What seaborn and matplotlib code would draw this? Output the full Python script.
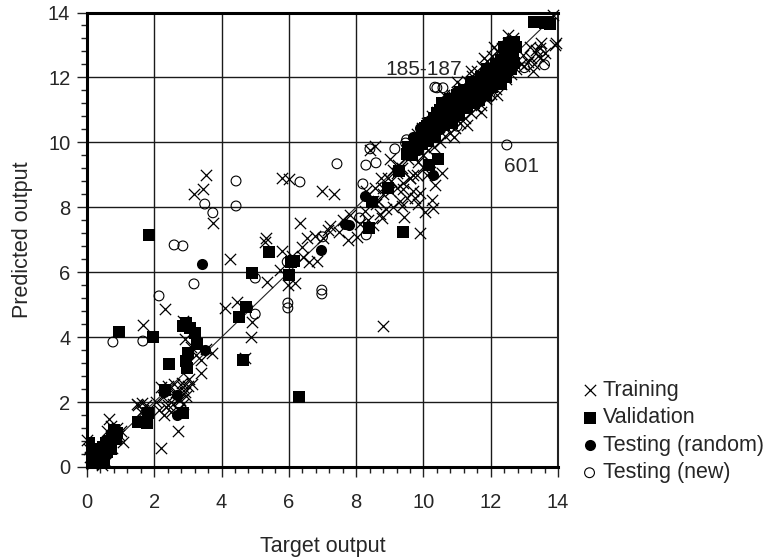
import numpy as np
import matplotlib
matplotlib.use("Agg")
import matplotlib.pyplot as plt
from matplotlib.ticker import MultipleLocator
import seaborn as sns

# values
train_x = [0.0, 0.05, 0.1, 0.15, 0.2, 0.3, 0.35, 0.4, 0.5, 0.55, 0.6, 0.65, 0.7, 0.75, 0.8, 0.85, 0.9, 0.95, 1.0, 1.07, 0.45, 0.58, 0.72,
           1.49, 1.63, 1.52, 1.66, 1.6, 1.75, 2.2, 2.7, 2.32, 1.66, 2.05, 2.15, 2.25, 2.35, 2.45, 2.55, 2.65, 2.75, 2.85, 2.95, 2.2, 2.3, 2.42, 2.5, 2.6, 2.72, 2.82, 2.92, 3.02, 3.12, 2.4, 2.55, 2.7, 2.85, 3.0,
           3.39, 3.71, 2.91, 3.1, 3.25, 3.4, 3.55, 2.85,
           3.54, 3.45, 3.18, 3.74, 5.8, 6.0, 6.33, 6.78, 5.32, 6.98, 7.34, 6.55, 4.25, 4.1, 4.45, 4.9, 4.87, 4.7, 5.35, 5.29, 5.8, 5.74, 5.97, 6.18, 6.42, 6.83, 6.39, 6.1, 6.6, 7.0, 7.22, 7.5,
           7.15, 7.82, 7.6, 7.75, 8.02, 8.77, 9.9, 9.42, 10.25, 10.28, 10.55, 8.56, 8.4, 8.1, 8.25, 8.35, 8.5, 8.6, 8.7, 8.8, 8.9, 9.0, 9.1, 9.2, 9.3, 9.4, 9.5, 9.6, 9.7, 9.8, 8.3, 8.5, 8.65, 8.8, 8.95, 9.1, 9.25, 9.4, 9.55, 9.7, 9.85, 10.0, 10.1, 10.2, 10.35, 9.0, 9.2, 9.35, 9.6, 9.75, 9.9, 8.75, 9.05, 9.35, 8.55, 9.85, 10.05, 8.8,
           9.8, 9.95, 10.1, 10.25, 10.4, 10.55, 10.7, 10.85, 11.0, 11.15, 11.3, 11.45, 11.6, 11.75, 11.9, 12.05, 12.2, 12.35, 12.5, 12.65, 10.0, 10.15, 10.3, 10.5, 10.65, 10.8, 10.95, 11.1, 11.25, 11.4, 11.55, 11.7, 11.85, 12.0, 12.15, 12.3, 12.45, 12.6, 12.75, 12.9, 10.6, 11.0, 11.4, 11.8, 12.1, 12.5, 10.9, 11.3, 11.7, 12.2,
           13.9, 13.95, 13.46, 13.55, 13.3, 13.1, 13.17, 13.4, 13.6, 13.2, 13.35, 13.0, 13.85, 13.7, 13.5, 12.95, 13.25]
train_y = [0.83, 0.55, 0.3, 0.1, 0.55, 0.2, 0.6, 0.35, 0.45, 0.15, 0.7, 1.48, 0.9, 0.6, 1.15, 0.85, 1.2, 1.0, 1.1, 0.77, 0.05, 1.1, 1.25,
           1.94, 1.97, 1.9, 1.75, 1.7, 1.9, 0.59, 1.11, 4.87, 4.38, 2.0, 1.75, 2.15, 1.85, 2.4, 1.95, 2.3, 2.05, 2.45, 2.2, 2.45, 1.6, 2.5, 1.7, 2.55, 2.1, 2.6, 2.3, 2.7, 2.55, 1.9, 2.2, 1.75, 1.95, 2.5,
           2.9, 3.51, 3.94, 3.7, 3.45, 3.3, 3.65, 4.5,
           9.0, 8.56, 8.41, 7.52, 8.91, 8.87, 7.52, 7.12, 7.06, 8.5, 8.41, 7.05, 6.41, 4.9, 5.09, 4.47, 4.0, 3.36, 5.7, 6.94, 6.66, 6.07, 5.61, 5.67, 6.47, 6.35, 6.78, 6.5, 6.3, 7.05, 7.43, 7.25,
           7.3, 7.77, 7.6, 7.0, 7.09, 7.67, 7.21, 7.7, 8.23, 7.98, 9.06, 9.89, 9.75, 7.5, 7.9, 7.6, 7.45, 8.1, 7.8, 8.4, 7.95, 8.5, 8.0, 8.6, 8.2, 8.55, 8.3, 8.9, 8.5, 9.0, 8.5, 8.2, 8.2, 8.6, 8.9, 9.15, 9.3, 8.75, 9.5, 9.0, 9.4, 9.25, 9.0, 9.4, 8.7, 9.5, 9.05, 8.05, 8.9, 8.3, 8.45, 8.9, 8.8, 9.2, 8.6, 8.1, 7.85, 4.35,
           10.25, 10.45, 10.6, 10.8, 10.95, 11.1, 11.25, 11.45, 11.55, 11.75, 11.9, 12.05, 12.2, 12.35, 12.5, 12.65, 12.8, 12.9, 13.05, 13.2, 9.6, 9.75, 9.85, 10.0, 10.2, 10.3, 10.45, 10.6, 10.75, 10.9, 11.05, 11.15, 11.35, 11.5, 11.65, 11.8, 11.95, 12.1, 12.25, 12.4, 11.45, 11.85, 12.2, 12.6, 12.95, 13.3, 10.15, 10.55, 10.95, 11.45,
           13.0, 13.05, 12.9, 12.55, 12.4, 12.48, 12.94, 12.65, 12.75, 12.6, 12.85, 12.35, 13.93, 13.7, 13.05, 12.7, 12.2]

valid_x = [1.84, 0.95, 1.96, 2.44, 3.06, 2.85, 3.2, 2.95, 3.27, 3.0, 2.94, 2.97, 2.32, 2.85, 1.81, 1.52, 1.78, 4.64, 4.52, 4.72, 4.9, 5.41, 6.0, 6.15, 6.05, 6.3,
           0.48, 0.33, 0.62, 0.15, 0.1, 0.25, 0.4, 0.75, 0.9,
           9.27, 8.94, 8.47, 10.43, 10.16, 9.39, 8.38,
           13.3, 13.4, 13.5, 13.6, 13.7, 13.75, 12.7, 12.75, 12.6,
           9.6, 9.8, 9.95, 10.1, 10.15, 10.3, 10.4, 10.55, 10.7, 10.8, 10.95, 11.1, 11.25, 11.4, 11.55, 11.7, 11.85, 12.0, 12.15, 12.3, 12.45,
           10.05, 10.25, 10.5, 10.65, 10.85, 11.05, 11.2, 11.35, 11.5, 11.65, 11.8, 11.95, 12.1, 12.25, 12.4, 12.55,
           9.5, 9.65, 9.75, 9.85, 9.95, 10.05, 10.15, 10.2, 10.3, 10.35, 10.45, 10.5, 10.6, 10.7, 10.75, 10.85, 10.9, 11.0, 11.05, 11.15, 11.2, 11.3, 11.35, 11.45, 11.5, 11.6, 11.65, 11.75, 11.85, 11.9, 12.0, 12.05, 12.15, 12.2, 12.3, 12.35, 12.45, 12.5, 12.6, 12.65, 12.7, 12.55, 12.4, 9.55, 9.7,
           0.05, 0.1, 0.15, 0.2, 0.25, 0.3, 0.35, 0.45, 0.5, 0.55, 0.6, 0.65, 0.7, 0.8, 0.85, 0.05, 0.12, 0.05]
valid_y = [7.15, 4.15, 4.0, 3.17, 4.28, 4.35, 4.13, 4.45, 3.79, 3.51, 3.27, 3.05, 2.37, 1.66, 1.66, 1.39, 1.36, 3.3, 4.62, 4.93, 5.98, 6.63, 5.92, 6.35, 6.3, 2.16,
           0.62, 0.28, 0.59, 0.4, 0.2, 0.15, 0.15, 0.9, 1.05,
           9.12, 8.6, 8.17, 9.49, 9.31, 7.24, 7.36,
           13.7, 13.7, 13.72, 13.68, 13.7, 13.65, 13.1, 12.95, 12.85,
           9.7, 9.9, 10.35, 10.5, 10.2, 10.75, 10.9, 11.2, 11.05, 11.35, 11.3, 11.55, 11.5, 11.8, 11.75, 12.0, 12.1, 12.25, 12.3, 12.55, 12.7,
           10.05, 10.25, 10.55, 10.65, 10.85, 10.95, 11.05, 11.25, 11.4, 11.5, 11.6, 11.85, 12.05, 12.15, 12.3, 12.55,
           9.65, 9.6, 9.85, 10.1, 9.95, 10.45, 10.05, 10.6, 10.4, 10.15, 10.6, 11.0, 10.55, 10.85, 11.2, 10.6, 11.1, 11.45, 10.85, 11.3, 11.6, 11.1, 11.4, 11.85, 11.2, 11.55, 11.3, 11.9, 11.45, 12.25, 11.95, 11.7, 12.4, 12.05, 11.8, 12.45, 12.0, 12.85, 12.25, 12.6, 12.45, 13.05, 12.95, 9.85, 9.75,
           0.75, 0.5, 0.1, 0.55, 0.3, 0.05, 0.45, 0.3, 0.1, 0.75, 0.45, 0.8, 0.55, 1.15, 0.85, 0.2, 0.05, 0.5]

rand_x = [3.42, 3.5, 2.67, 2.67, 2.3, 4.75, 6.95, 7.67, 7.78, 8.26, 10.28, 0.83, 0.74, 0.7, 0.85, 0.1, 0.15, 0.3, 0.5, 0.05,
          9.7, 9.9, 10.05, 10.2, 10.35, 10.6, 10.9, 11.2, 11.5, 11.8, 12.05, 12.35, 12.6, 9.55, 9.85, 10.15, 10.5, 10.8, 11.1, 11.4, 11.7, 12.0, 12.3]
rand_y = [6.26, 3.6, 2.22, 1.6, 2.3, 4.93, 6.69, 7.49, 7.45, 8.35, 9.0, 0.99, 0.99, 0.85, 1.15, 0.45, 0.2, 0.1, 0.3, 0.6,
          10.15, 10.45, 10.05, 10.7, 10.35, 11.0, 10.75, 11.4, 11.2, 11.9, 11.7, 12.4, 12.3, 9.6, 9.75, 10.3, 10.4, 10.95, 11.2, 11.65, 11.55, 12.2, 12.05]

new_x = [0.77, 1.66, 2.14, 2.59, 2.85, 3.18, 3.5, 3.74, 4.43, 4.43, 5.0, 5.0, 5.97, 5.97, 6.33, 6.98, 6.98, 7.43, 8.41, 9.15, 8.29, 8.59, 8.2, 9.5, 9.47, 10.34, 10.4, 10.58, 12.48, 13.6, 11.98, 11.0, 13.5, 7.0, 5.95, 8.1, 8.3, 13.0]
new_y = [3.85, 3.88, 5.27, 6.84, 6.81, 5.64, 8.1, 7.83, 8.81, 8.04, 4.71, 5.82, 5.05, 4.9, 8.78, 5.45, 5.33, 9.34, 9.8, 9.8, 9.3, 9.37, 8.72, 10.08, 9.98, 11.7, 11.68, 11.68, 9.92, 12.39, 11.4, 10.5, 12.8, 7.09, 6.32, 7.67, 7.15, 12.3]

ticks = [0, 2, 4, 6, 8, 10, 12, 14]

sns.set_style("white")
plt.rcParams['font.family'] = ['Liberation Sans', 'DejaVu Sans']

fig = plt.figure(figsize=(7.71, 5.6), dpi=100)
ax = fig.add_axes([87 / 771, 93 / 560, 471 / 771, 454.5 / 560])

ax.plot([0, 14], [0, 14], color='#222222', lw=0.8, zorder=1)

sns.scatterplot(x=train_x, y=train_y, marker='x', s=66, color='black', linewidth=0.9, label='Training', ax=ax, zorder=3, clip_on=False)
sns.scatterplot(x=valid_x, y=valid_y, marker='s', s=68, color='black', linewidth=0, label='Validation', ax=ax, zorder=4)
sns.scatterplot(x=rand_x, y=rand_y, marker='o', s=64, color='black', linewidth=0, label='Testing (random)', ax=ax, zorder=5)
sns.scatterplot(x=new_x, y=new_y, marker='o', s=50, facecolor='none', edgecolor='black', linewidth=0.8, label='Testing (new)', ax=ax, zorder=6)

ax.set_xlim(0, 14)
ax.set_ylim(0, 14)
ax.set_xticks(ticks)
ax.set_yticks(ticks)
ax.xaxis.set_minor_locator(MultipleLocator(0.4))
ax.yaxis.set_minor_locator(MultipleLocator(0.4))
ax.grid(True, which='major', color='#1a1a1a', lw=1.0, zorder=0)
ax.set_axisbelow(True)
ax.tick_params(which='major', length=7, width=1.0, color='#222222', labelsize=14.5, bottom=True, left=True)
ax.tick_params(which='minor', length=4, width=1.0, color='#222222', bottom=True, left=True)
ax.tick_params(axis='x', which='major', pad=12)
ax.tick_params(axis='y', which='major', pad=5)

for side in ['top', 'left', 'bottom']:
    ax.spines[side].set_linewidth(2.2)
    ax.spines[side].set_color('black')
ax.spines['right'].set_linewidth(1.5)
ax.spines['right'].set_color('#222222')

ax.set_xlabel('Target output', fontsize=15.5, labelpad=17)
ax.set_ylabel('Predicted output', fontsize=15.5)
ax.yaxis.set_label_coords((33 - 87) / 471, 0.5)

ax.text(8.86, 12.25, '185-187', fontsize=15, va='center', ha='left', zorder=7)
ax.text(12.4, 9.25, '601', fontsize=15, va='center', ha='left', zorder=7)

ax.legend(loc='upper left', bbox_to_anchor=(568 / 771, 1 - 380 / 560), bbox_transform=fig.transFigure,
          frameon=False, fontsize=15.5, handletextpad=-0.38, labelspacing=0.3, borderpad=0, borderaxespad=0)

fig.savefig('out.png', dpi=100)
